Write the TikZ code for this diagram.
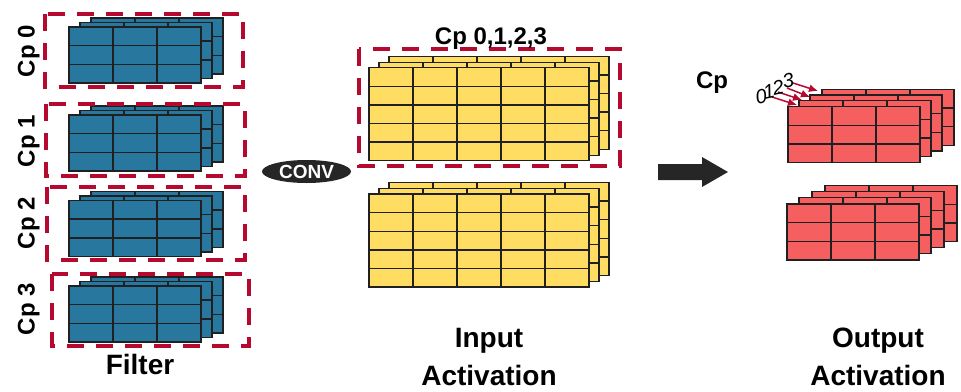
\documentclass[tikz,border=0pt]{standalone}
\usepackage{fontspec}
\setmainfont{Liberation Sans}
\usetikzlibrary{arrows.meta,shapes.geometric}
\definecolor{fblue}{HTML}{27779F}
\definecolor{fyellow}{HTML}{FFDC62}
\definecolor{fred}{HTML}{F55F5F}
\definecolor{dashred}{HTML}{B5092F}
\definecolor{gridline}{HTML}{202020}
\newcommand{\gridbox}[7]{% x y w h cols rows colour
  \draw[gridbox,fill=#7] (#1,#2) rectangle ++(#3,#4);
  \foreach \i in {1,...,\numexpr#5-1\relax} \draw[gridbox] ({#1+\i*#3/#5},#2) -- ++(0,#4);
  \foreach \j in {1,...,\numexpr#6-1\relax} \draw[gridbox] (#1,{#2+\j*#4/#6}) -- ++(#3,0);
}
\tikzset{
  gridbox/.style={draw=gridline,line width=1.4pt},
  dashbox/.style={draw=dashred,line width=3.2pt,dash pattern=on 17pt off 12pt},
  lab/.style={font=\bfseries\fontsize{28}{30}\selectfont,inner sep=0pt},
  small/.style={font=\bfseries\fontsize{24}{26}\selectfont,inner sep=0pt},
  digit/.style={inner sep=0pt,font=\itshape\fontsize{20}{22}\selectfont,rotate=12},
  tiny/.style={draw=dashred,line width=1.5pt,-{Latex[length=9pt,width=8pt]}}
}
\begin{document}
\begin{tikzpicture}[x=1pt,y=-1pt]
\useasboundingbox (0,0) rectangle (961,391);
% filter stacks
\foreach \t in {27,115,200.5,286}{
  \gridbox{91}{\t-9}{132}{56}{3}{3}{fblue}
  \gridbox{80}{\t-4.5}{132}{56}{3}{3}{fblue}
  \gridbox{69}{\t}{132}{56}{3}{3}{fblue}
}
\draw[dashbox] (45,14) rectangle (243,87);
\draw[dashbox] (46,104) rectangle (245,176);
\draw[dashbox] (47,187) rectangle (245,260);
\draw[dashbox] (52,274) rectangle (249,346);
\node[small,rotate=90,anchor=mid] (cp0) at (32,51) {Cp 0};
\node[small,rotate=90,anchor=mid] (cp1) at (32,141) {Cp 1};
\node[small,rotate=90,anchor=mid] (cp2) at (32,223) {Cp 2};
\node[small,rotate=90,anchor=mid] (cp3) at (32,309) {Cp 3};
\node[lab] (filter) at (140,364) {Filter};
% conv
\node[fill=black!85,ellipse,minimum width=89pt,minimum height=23pt,inner sep=0pt,text=white,font=\bfseries\fontsize{19}{20}\selectfont] (conv) at (306.5,171.5) {CONV};
% input
\foreach \t in {67.7,194}{
  \gridbox{389}{\t-11.5}{220}{93}{5}{5}{fyellow}
  \gridbox{379}{\t-5.5}{220}{93}{5}{5}{fyellow}
  \gridbox{369}{\t}{220}{93}{5}{5}{fyellow}
}
\draw[dashbox] (359,49) rectangle (620,166);
\node[small] (cpall) at (491,39) {Cp 0,1,2,3};
\node[lab] (input) at (489,341) {Input};
\node[lab] (inact) at (489,375) {Activation};
% big arrow
\fill[black!85] (658,164) -- (702,164) -- (702,157) -- (728,172) -- (702,187) -- (702,180) -- (658,180) -- cycle;
% output
\gridbox{822}{89.3}{132}{56}{3}{3}{fred}
\gridbox{810}{95}{132}{56}{3}{3}{fred}
\gridbox{799}{100.7}{132}{56}{3}{3}{fred}
\gridbox{788}{106.7}{132}{56}{3}{3}{fred}
\gridbox{825}{185.7}{132}{56}{3}{3}{fred}
\gridbox{812}{191.7}{132}{56}{3}{3}{fred}
\gridbox{799}{197.7}{132}{56}{3}{3}{fred}
\gridbox{787}{204}{132}{56}{3}{3}{fred}
\coordinate (a0s) at (772,97); \coordinate (a0e) at (797,105);
\coordinate (a1s) at (778,92); \coordinate (a1e) at (802,100);
\coordinate (a2s) at (787,88); \coordinate (a2e) at (810,97);
\coordinate (a3s) at (793,83); \coordinate (a3e) at (818,91);
\foreach \k in {0,1,2,3} \draw[tiny] (a\k s) -- (a\k e);
\node[digit] (n0) at (761,97) {0};
\node[digit] (n1) at (769,92) {1};
\node[digit] (n2) at (778,88) {2};
\node[digit] (n3) at (788,81) {3};
\node[small] (cp) at (712,83) {Cp};
\node[lab] (output) at (878,341) {Output};
\node[lab] (outact) at (878,375) {Activation};
\end{tikzpicture}
\end{document}
